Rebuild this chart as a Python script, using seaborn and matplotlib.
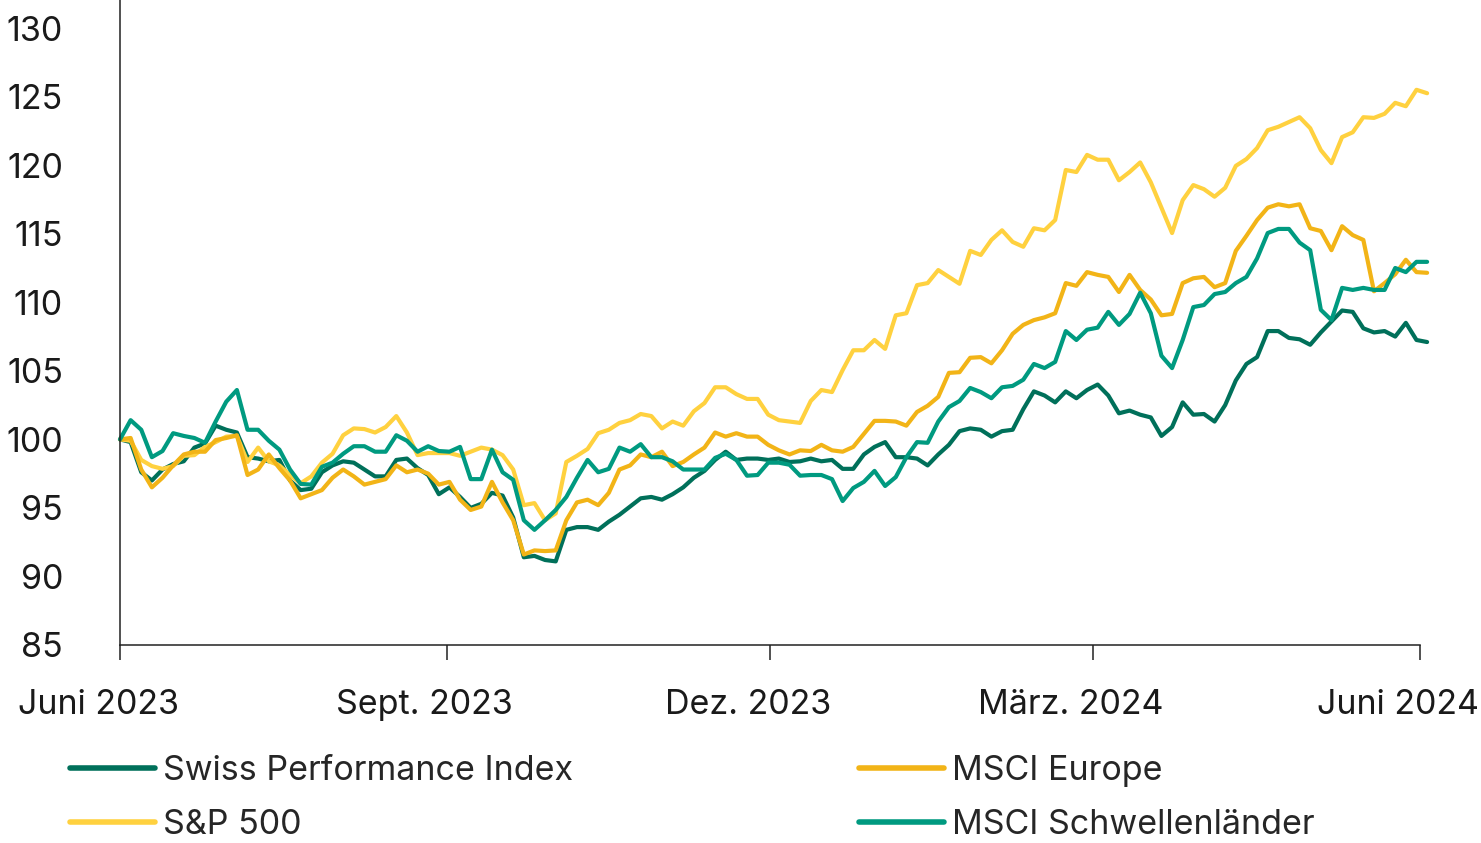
import numpy as np
import pandas as pd
import matplotlib
matplotlib.use("Agg")
import matplotlib.pyplot as plt
from matplotlib.lines import Line2D
from matplotlib.transforms import ScaledTranslation
import seaborn as sns

# ---------------- data (indexed, 1 June 2023 = 100) ----------------
dates = pd.date_range("2023-06-01", "2024-06-03", periods=124)

spi = [100.0, 99.8, 97.6, 97.0, 97.8, 98.2, 98.4, 99.4, 99.7, 101.0,
       100.7, 100.5, 98.7, 98.6, 98.4, 98.5, 97.0, 96.3, 96.4, 97.6,
       98.1, 98.4, 98.3, 97.8, 97.3, 97.3, 98.5, 98.6, 97.9, 97.4,
       96.0, 96.5, 95.8, 95.0, 95.3, 96.1, 95.9, 94.3, 91.4, 91.5,
       91.2, 91.1, 93.4, 93.6, 93.6, 93.4, 94.0, 94.5, 95.1, 95.7,
       95.8, 95.6, 96.0, 96.5, 97.2, 97.7, 98.5, 99.1, 98.5, 98.6,
       98.6, 98.5, 98.6, 98.35, 98.4, 98.6, 98.4, 98.5, 97.85, 97.85,
       98.9, 99.45, 99.8, 98.7, 98.7, 98.6, 98.1, 98.9, 99.6, 100.6,
       100.8, 100.7, 100.2, 100.6, 100.7, 102.2, 103.5, 103.2, 102.7, 103.5,
       103.0, 103.6, 104.0, 103.2, 101.9, 102.1, 101.8, 101.6, 100.25, 100.9,
       102.7, 101.8, 101.85, 101.3, 102.5, 104.3, 105.5, 106.0, 107.9, 107.9,
       107.4, 107.3, 106.9, 107.8, 108.6, 109.4, 109.3, 108.1, 107.8, 107.9,
       107.5, 108.5, 107.25, 107.1]

sp500 = [100.0, 99.9, 98.5, 98.05, 97.85, 98.05, 98.8, 98.85, 99.45, 99.8,
         100.2, 100.25, 98.35, 99.4, 98.4, 98.1, 97.4, 96.8, 97.3, 98.3,
         98.95, 100.3, 100.8, 100.75, 100.5, 100.9, 101.7, 100.5, 98.85, 99.0,
         99.0, 99.0, 98.8, 99.1, 99.4, 99.25, 98.85, 97.8, 95.2, 95.35,
         94.1, 94.6, 98.35, 98.8, 99.3, 100.45, 100.7, 101.2, 101.4, 101.85,
         101.7, 100.8, 101.3, 101.0, 102.05, 102.65, 103.8, 103.8, 103.3, 102.95,
         102.95, 101.8, 101.4, 101.3, 101.2, 102.8, 103.6, 103.45, 105.05, 106.5,
         106.5, 107.25, 106.6, 109.05, 109.2, 111.25, 111.4, 112.35, 111.85, 111.35,
         113.75, 113.45, 114.55, 115.25, 114.4, 114.05, 115.4, 115.25, 116.0, 119.65,
         119.5, 120.75, 120.4, 120.4, 118.9, 119.5, 120.2, 118.75, 116.9, 115.05,
         117.45, 118.55, 118.25, 117.7, 118.35, 119.95, 120.45, 121.25, 122.55, 122.8,
         123.15, 123.5, 122.7, 121.1, 120.15, 122.05, 122.4, 123.5, 123.45, 123.75,
         124.55, 124.3, 125.5, 125.25]

msci_europe = [100.0, 100.1, 97.8, 96.5, 97.2, 98.1, 98.9, 99.1, 99.1, 99.95,
               100.1, 100.3, 97.4, 97.8, 98.9, 97.9, 97.0, 95.7, 96.0, 96.3,
               97.2, 97.8, 97.3, 96.7, 96.9, 97.1, 98.1, 97.6, 97.8, 97.5,
               96.7, 96.9, 95.6, 94.85, 95.1, 96.9, 95.4, 94.1, 91.6, 91.9,
               91.85, 91.9, 94.1, 95.4, 95.6, 95.2, 96.1, 97.8, 98.1, 98.9,
               98.7, 99.1, 98.05, 98.35, 98.9, 99.4, 100.5, 100.2, 100.45, 100.2,
               100.2, 99.6, 99.2, 98.9, 99.2, 99.15, 99.6, 99.2, 99.1, 99.45,
               100.4, 101.35, 101.35, 101.3, 101.0, 102.0, 102.45, 103.1, 104.85, 104.9,
               105.95, 106.0, 105.55, 106.5, 107.7, 108.35, 108.7, 108.9, 109.2, 111.4,
               111.2, 112.2, 112.0, 111.85, 110.75, 112.0, 110.9, 110.2, 109.05, 109.15,
               111.4, 111.75, 111.85, 111.1, 111.4, 113.75, 114.85, 116.0, 116.9, 117.15,
               117.0, 117.15, 115.4, 115.2, 113.8, 115.55, 114.9, 114.55, 110.8, 111.4,
               112.05, 113.1, 112.2, 112.15]

msci_em = [100.0, 101.4, 100.7, 98.7, 99.15, 100.45, 100.25, 100.1, 99.75, 101.3,
           102.75, 103.6, 100.7, 100.7, 99.9, 99.25, 97.8, 96.75, 96.7, 98.0,
           98.3, 98.95, 99.5, 99.5, 99.1, 99.1, 100.3, 99.9, 99.1, 99.5,
           99.15, 99.1, 99.45, 97.1, 97.1, 99.25, 97.6, 97.05, 94.1, 93.4,
           94.1, 94.85, 95.8, 97.2, 98.5, 97.6, 97.85, 99.4, 99.1, 99.65,
           98.7, 98.7, 98.4, 97.8, 97.8, 97.8, 98.65, 98.95, 98.5, 97.35,
           97.4, 98.3, 98.3, 98.15, 97.35, 97.4, 97.4, 97.1, 95.5, 96.45,
           96.9, 97.7, 96.6, 97.25, 98.7, 99.8, 99.75, 101.3, 102.35, 102.8,
           103.75, 103.45, 103.0, 103.8, 103.9, 104.35, 105.5, 105.2, 105.65, 107.9,
           107.25, 108.0, 108.15, 109.3, 108.35, 109.15, 110.7, 109.2, 106.1, 105.2,
           107.25, 109.65, 109.8, 110.6, 110.75, 111.4, 111.85, 113.2, 115.05, 115.35,
           115.35, 114.35, 113.8, 109.45, 108.7, 111.05, 110.9, 111.05, 110.9, 110.9,
           112.5, 112.2, 112.95, 112.95]

series_names = ["Swiss Performance Index", "S&P 500", "MSCI Europe", "MSCI Schwellenländer"]
series_colors = ["#00705A", "#FFD13F", "#F2B417", "#009A80"]

x_tick_dates = ["2023-06-01", "2023-09-01", "2023-12-01", "2024-03-01", "2024-06-01"]
x_tick_labels = ["Juni 2023", "Sept. 2023", "Dez. 2023", "März. 2024", "Juni 2024"]
y_ticks = [85, 90, 95, 100, 105, 110, 115, 120, 125, 130]

# ---------------- plot ----------------
sns.set_theme(style="white")
plt.rcParams["font.family"] = ["Inter", "DejaVu Sans"]
FS = 24.5
FW = "normal"

df = pd.DataFrame({
    "Datum": np.tile(dates, len(series_names)),
    "Index": np.repeat(series_names, len(dates)),
    "Wert": np.concatenate([spi, sp500, msci_europe, msci_em]),
})

W, H = 1481, 843
fig = plt.figure(figsize=(W / 100, H / 100), dpi=100)
ax = fig.add_axes([120 / W, 1 - 645 / H, 1300 / W, 645 / H])

sns.lineplot(data=df, x="Datum", y="Wert", hue="Index", hue_order=series_names,
             palette=series_colors, linewidth=3.0, ax=ax, legend=False)
for ln in ax.get_lines():
    ln.set_clip_on(False)
    ln.set_solid_joinstyle("round")

ax.set_xlim(pd.Timestamp("2023-06-01"), pd.Timestamp("2024-06-01"))
ax.set_ylim(85, 132.05)
ax.set_xlabel("")
ax.set_ylabel("")

ax.set_yticks(y_ticks)
ax.set_yticklabels([str(v) for v in y_ticks], fontsize=FS, fontweight=FW, color="#1a1a1a")
ax.tick_params(axis="y", length=0, pad=41)

ax.set_xticks(pd.to_datetime(x_tick_dates))
ax.set_xticklabels(x_tick_labels, fontsize=FS, fontweight=FW, color="#1a1a1a")
ax.tick_params(axis="x", direction="out", length=11, width=1.1, color="#222222", pad=21, bottom=True)
shift = ScaledTranslation(-22 / 100, 0, fig.dpi_scale_trans)
for lab in ax.get_xticklabels():
    lab.set_transform(lab.get_transform() + shift)

for side in ["top", "right"]:
    ax.spines[side].set_visible(False)
for side in ["left", "bottom"]:
    ax.spines[side].set_color("#222222")
    ax.spines[side].set_linewidth(1.1)
ax.grid(False)

handles = [Line2D([0], [0], color=c, lw=4, solid_capstyle="round") for c in series_colors]
fig.legend(handles, series_names, ncol=2, loc="upper left",
           bbox_to_anchor=(70 / W, 1 - 755 / H), bbox_transform=fig.transFigure,
           frameon=False, handlelength=2.5, handletextpad=0.24,
           columnspacing=8.4, labelspacing=0.64, borderpad=0, borderaxespad=0,
           prop={"size": FS, "weight": FW})

fig.savefig("out.png", dpi=100)
